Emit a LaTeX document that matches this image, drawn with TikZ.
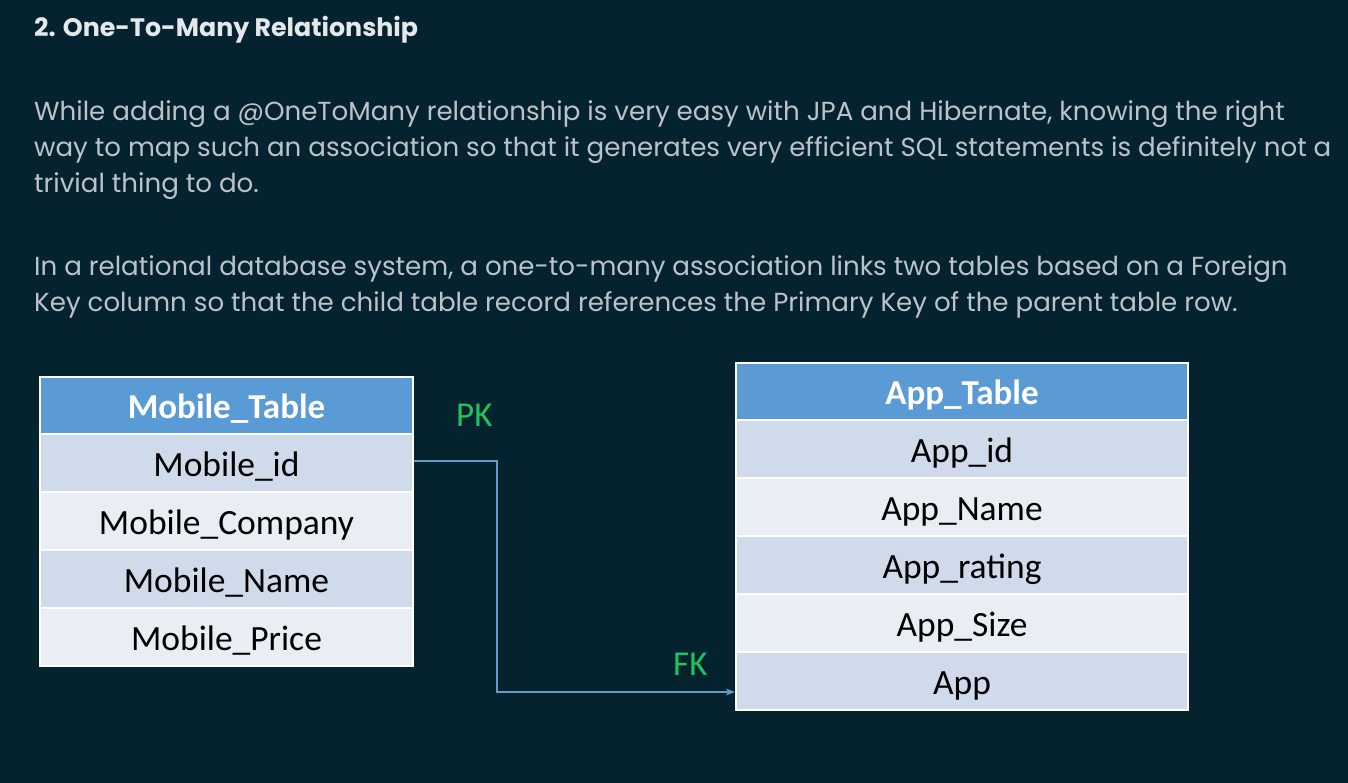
\documentclass[tikz,border=0pt]{standalone}
\usepackage{fontspec}
\setmainfont{Poppins}
\newfontfamily\calfont{Carlito}
\usetikzlibrary{arrows.meta}
\definecolor{bg}{HTML}{05232F}
\definecolor{hdr}{HTML}{5B9BD5}
\definecolor{rowa}{HTML}{CFDAEA}
\definecolor{rowb}{HTML}{E9EEF5}
\definecolor{para}{HTML}{BCC3C8}
\definecolor{ttl}{HTML}{E4E8EB}
\definecolor{keyg}{HTML}{22C25E}
\definecolor{conn}{HTML}{6A98C8}
\begin{document}
\begin{tikzpicture}[x=1pt,y=-1pt,
  txt/.style={anchor=base west,inner sep=0pt,text=para,font=\fontsize{26.1}{30}\selectfont},
  ttlstyle/.style={anchor=base west,inner sep=0pt,text=ttl,font=\bfseries\fontsize{25.3}{30}\selectfont},
  cell/.style={draw=white,line width=2.5pt,inner sep=0pt,text=black,font=\calfont\fontsize{35.5}{40}\selectfont,minimum height=58pt,text height=30pt,text depth=4pt},
  mcell/.style={cell,minimum width=373pt},
  acell/.style={cell,minimum width=452pt},
  hcell/.style={fill=hdr,text=white,font=\calfont\bfseries\fontsize{35}{40}\selectfont,minimum height=57pt},
  keylab/.style={anchor=base west,inner sep=0pt,text=keyg,font=\calfont\fontsize{35}{40}\selectfont},
  link/.style={draw=conn,line width=2pt,-{Stealth[length=9pt,width=7pt]}}]
\fill[bg] (0,0) rectangle (1348,783);
\useasboundingbox (0,0) rectangle (1348,783);

\node[ttlstyle] (title) at (34,37) {2. One-To-Many Relationship};
\node[txt] (p1) at (34,121) {While adding a @OneToMany relationship is very easy with JPA and Hibernate, knowing the right};
\node[txt] (p2) at (34,157) {way to map such an association so that it generates very efficient SQL statements is definitely not a};
\node[txt] (p3) at (34,193) {trivial thing to do.};
\node[txt] (q1) at (34,276) {In a relational database system, a one-to-many association links two tables based on a Foreign};
\node[txt] (q2) at (34,312) {Key column so that the child table record references the Primary Key of the parent table row.};

% Mobile table
\node[mcell,hcell] (mh) at (226.5,405.5) {Mobile\_Table};
\node[mcell,fill=rowa] (m1) at (226.5,463) {Mobile\_id};
\node[mcell,fill=rowb] (m2) at (226.5,521) {Mobile\_Company};
\node[mcell,fill=rowa] (m3) at (226.5,579) {Mobile\_Name};
\node[mcell,fill=rowb] (m4) at (226.5,637) {Mobile\_Price};

% App table
\node[acell,hcell] (ah) at (962,391.5) {App\_Table};
\node[acell,fill=rowa] (a1) at (962,449) {App\_id};
\node[acell,fill=rowb] (a2) at (962,507) {App\_Name};
\node[acell,fill=rowa] (a3) at (962,565) {App\_rating};
\node[acell,fill=rowb] (a4) at (962,623) {App\_Size};
\node[acell,fill=rowa] (a5) at (962,681) {App};

\node[keylab] (pk) at (456,426) {PK};
\node[keylab] (fk) at (673,675) {FK};

\coordinate (bend) at (497,0);
\draw[link] ([yshift=2pt]m1.east) -- ([yshift=2pt]m1.east -| bend) |- ([yshift=-11pt]a5.west);
\end{tikzpicture}
\end{document}
